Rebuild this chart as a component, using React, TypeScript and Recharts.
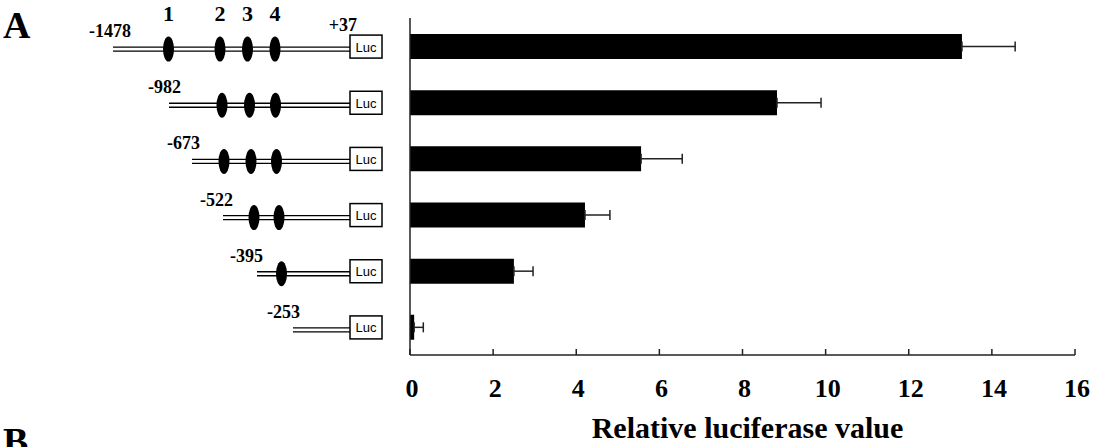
import React from 'react';
import { BarChart, Bar, XAxis, YAxis, ErrorBar, Label } from 'recharts';

// ---- data ----
const constructs = ['-1478', '-982', '-673', '-522', '-395', '-253'];
const luciferase = [13.28, 8.83, 5.56, 4.21, 2.5, 0.1];
const errors = [1.28, 1.06, 0.99, 0.6, 0.46, 0.22];
const bindingSites = [[1, 2, 3, 4], [2, 3, 4], [2, 3, 4], [3, 4], [4], []];
const siteLabels = ['1', '2', '3', '4'];
const endLabel = '+37';
const reporter = 'Luc';
const xTicks = [0, 2, 4, 6, 8, 10, 12, 14, 16];
const axisTitle = 'Relative luciferase value';
const panelLabels = ['A', 'B'];

const rows = constructs.map((name, i) => ({
  name,
  value: luciferase[i],
  err: [0, errors[i]],
}));

// ---- schematic layout (drawing only) ----
const SCHEME: { start: number; labelEnd: number; sites: Record<number, number> }[] = [
  { start: 113, labelEnd: 131, sites: { 1: 168.5, 2: 220, 3: 247.5, 4: 275 } },
  { start: 169, labelEnd: 181, sites: { 2: 222, 3: 249.5, 4: 275.5 } },
  { start: 192, labelEnd: 200, sites: { 2: 224, 3: 251, 4: 276.5 } },
  { start: 223, labelEnd: 233, sites: { 3: 254, 4: 279 } },
  { start: 257, labelEnd: 263, sites: { 4: 281.5 } },
  { start: 293, labelEnd: 300, sites: {} },
];
const SERIF = '"Liberation Serif", "Times New Roman", serif';
const SANS = '"Liberation Sans", Arial, sans-serif';

function ConstructTick(props: any) {
  const { y, payload } = props;
  const i = constructs.indexOf(String(payload.value));
  if (i < 0) return null;
  const L = SCHEME[i];
  const cy = y;
  const boxX = 350;
  const boxW = 32;
  return (
    <g>
      <line x1={L.start} x2={boxX} y1={cy + 1} y2={cy + 1} stroke="#000" strokeWidth={1.3} />
      <line x1={L.start} x2={boxX} y1={cy + 5} y2={cy + 5} stroke="#000" strokeWidth={1.3} />
      {bindingSites[i].map((s) => (
        <ellipse key={s} cx={L.sites[s]} cy={cy + 3} rx={5.5} ry={12.5} fill="#000" />
      ))}
      <rect x={boxX} y={cy - 11} width={boxW} height={23} fill="#fff" stroke="#000" strokeWidth={1.5} />
      <text x={boxX + boxW / 2} y={cy + 5.5} textAnchor="middle" fontFamily={SANS} fontSize={13} fill="#000">
        {reporter}
      </text>
      <text x={L.labelEnd} y={cy - 9} textAnchor="end" fontFamily={SERIF} fontWeight="bold" fontSize={18} fill="#000">
        {payload.value}
      </text>
      {i === 0 &&
        siteLabels.map((t, k) => (
          <text key={t} x={L.sites[k + 1]} y={cy - 25} textAnchor="middle" fontFamily={SERIF} fontWeight="bold" fontSize={22} fill="#000">
            {t}
          </text>
        ))}
      {i === 0 && (
        <text x={343} y={cy - 15} textAnchor="middle" fontFamily={SERIF} fontWeight="bold" fontSize={18} fill="#000">
          {endLabel}
        </text>
      )}
    </g>
  );
}

function ValueTick(props: any) {
  const { x, y, payload } = props;
  return (
    <g>
      <line x1={x} x2={x} y1={y} y2={y - 6} stroke="#222" strokeWidth={1.5} />
      <text x={x + 2} y={y + 42} textAnchor="middle" fontFamily={SERIF} fontWeight="bold" fontSize={26} fill="#000">
        {payload.value}
      </text>
    </g>
  );
}

function TitleLabel(props: any) {
  const vb = props.viewBox || {};
  return (
    <text x={vb.x + vb.width / 2 + 5} y={vb.y + 83} textAnchor="middle" fontFamily={SERIF} fontWeight="bold" fontSize={30} fill="#000">
      {axisTitle}
    </text>
  );
}

export default function App() {
  return (
    <div style={{ position: 'absolute', left: 0, top: 0, width: 1094, height: 447, overflow: 'hidden', background: '#fff' }}>
      <BarChart width={1094} height={447} data={rows} layout="vertical" margin={{ top: 18, right: 19, bottom: 0, left: 0 }}>
        <XAxis
          type="number"
          domain={[0, 16]}
          ticks={xTicks}
          interval={0}
          height={92}
          tickSize={0}
          tickMargin={0}
          tickLine={false}
          axisLine={{ stroke: '#222', strokeWidth: 1.5 }}
          tick={<ValueTick />}
        >
          <Label content={<TitleLabel />} />
        </XAxis>
        <YAxis
          type="category"
          dataKey="name"
          width={410}
          interval={0}
          tickLine={false}
          axisLine={{ stroke: '#222', strokeWidth: 1.5 }}
          tick={<ConstructTick />}
        />
        <Bar dataKey="value" fill="#000" barSize={25} isAnimationActive={false}>
          <ErrorBar dataKey="err" direction="x" width={5} stroke="#222" strokeWidth={1.5} isAnimationActive={false} />
        </Bar>
      </BarChart>
      <svg width={1094} height={447} style={{ position: 'absolute', left: 0, top: 0, pointerEvents: 'none' }}>
        <text x={3} y={38} fontFamily={SERIF} fontWeight="bold" fontSize={38} fill="#000">{panelLabels[0]}</text>
        <text x={3} y={454} fontFamily={SERIF} fontWeight="bold" fontSize={38} fill="#000">{panelLabels[1]}</text>
      </svg>
    </div>
  );
}
